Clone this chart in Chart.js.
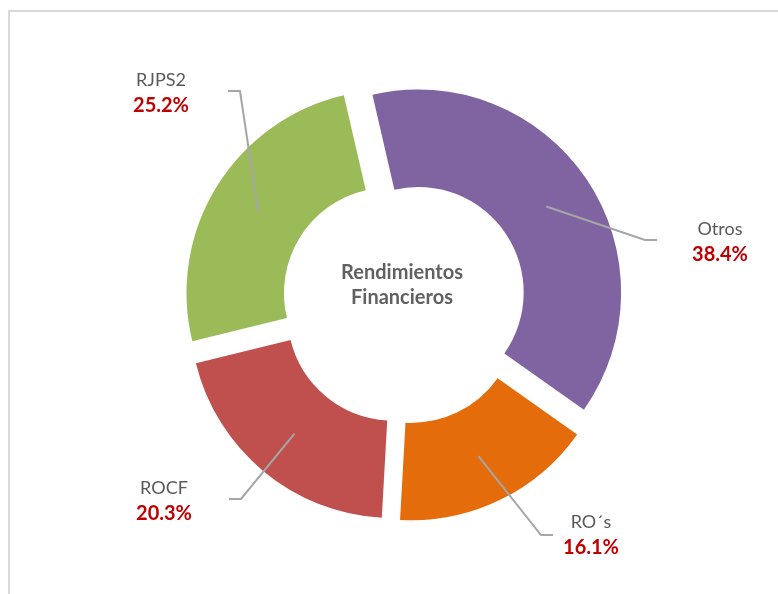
<!DOCTYPE html>
<html>
<head>
<meta charset="utf-8">
<script src="https://cdn.jsdelivr.net/npm/chart.js@4"></script>
<style>
  html, body { margin: 0; padding: 0; overflow: hidden; background: #fff; }
  #frame {
    position: absolute; left: 8px; top: 10px; width: 820px; height: 700px;
    border: 2px solid #d9d9d9;
  }
  #wrap { position: absolute; left: 0; top: 0; width: 778px; height: 594px; }
</style>
</head>
<body>
<div id="frame"></div>
<div id="wrap"><canvas id="chart"></canvas></div>
<script>
// Share of financial returns by source (%)
const categories = ["Otros", "RO´s", "ROCF", "RJPS2"];
const shares = [38.4, 16.1, 20.3, 25.2];
const colors = ["#8064A2", "#E46C0A", "#C0504D", "#9BBB59"];

const NAME_COLOR = "#595959";
const PCT_COLOR = "#C00000";
const LEADER_COLOR = "#A6A6A6";
const EXPLODE = 17; // px each slice is pulled away from the centre

// Where each label block sits, and where its leader line ends
const labelPos = [[720, 242], [591, 535], [164, 501], [161, 93]];
const leaderEnd = [[657, 240], [553, 535], [229, 499], [228, 91]];

// Pull every slice out along its mid angle (Excel style "exploded" doughnut)
const explodePlugin = {
  id: "explode",
  afterUpdate(chart) {
    chart.getDatasetMeta(0).data.forEach((arc) => {
      const mid = (arc.startAngle + arc.endAngle) / 2;
      arc.x += Math.cos(mid) * EXPLODE;
      arc.y += Math.sin(mid) * EXPLODE;
    });
  },
};

const labelPlugin = {
  id: "labels",
  afterDatasetsDraw(chart) {
    const { ctx, chartArea } = chart;
    const cx = (chartArea.left + chartArea.right) / 2;
    const cy = (chartArea.top + chartArea.bottom) / 2;
    ctx.save();

    // centre title
    ctx.fillStyle = "#616161";
    ctx.font = "bold 20px Lato";
    ctx.textAlign = "center";
    ctx.textBaseline = "middle";
    ctx.fillText("Rendimientos", cx - 2, cy - 29);
    ctx.fillText("Financieros", cx - 2, cy - 4);

    chart.getDatasetMeta(0).data.forEach((arc, i) => {
      const start = arc.tooltipPosition();
      const [ex, ey] = leaderEnd[i];
      const [lx, ly] = labelPos[i];
      const elbowX = lx > ex ? ex - 12 : ex + 12;

      ctx.strokeStyle = LEADER_COLOR;
      ctx.lineWidth = 2;
      ctx.beginPath();
      ctx.moveTo(start.x, start.y);
      ctx.lineTo(elbowX, ey);
      ctx.lineTo(ex, ey);
      ctx.stroke();

      ctx.fillStyle = NAME_COLOR;
      ctx.font = "18px Lato";
      ctx.fillText(categories[i], lx, ly - 12.5);
      ctx.fillStyle = PCT_COLOR;
      ctx.font = "bold 20px Lato";
      ctx.fillText(shares[i].toFixed(1) + "%", lx, ly + 12.5);
    });
    ctx.restore();
  },
};

new Chart(document.getElementById("chart"), {
  type: "doughnut",
  data: {
    labels: categories,
    datasets: [
      {
        data: shares,
        backgroundColor: colors,
        borderWidth: 0,
      },
    ],
  },
  options: {
    responsive: true,
    maintainAspectRatio: false,
    animation: false,
    rotation: -13,
    radius: 203,
    cutout: "52%",
    layout: { padding: { left: 30, right: 0, top: 10, bottom: 0 } },
    plugins: {
      legend: { display: false },
      tooltip: { enabled: false },
    },
  },
  plugins: [explodePlugin, labelPlugin],
});
</script>
</body>
</html>
